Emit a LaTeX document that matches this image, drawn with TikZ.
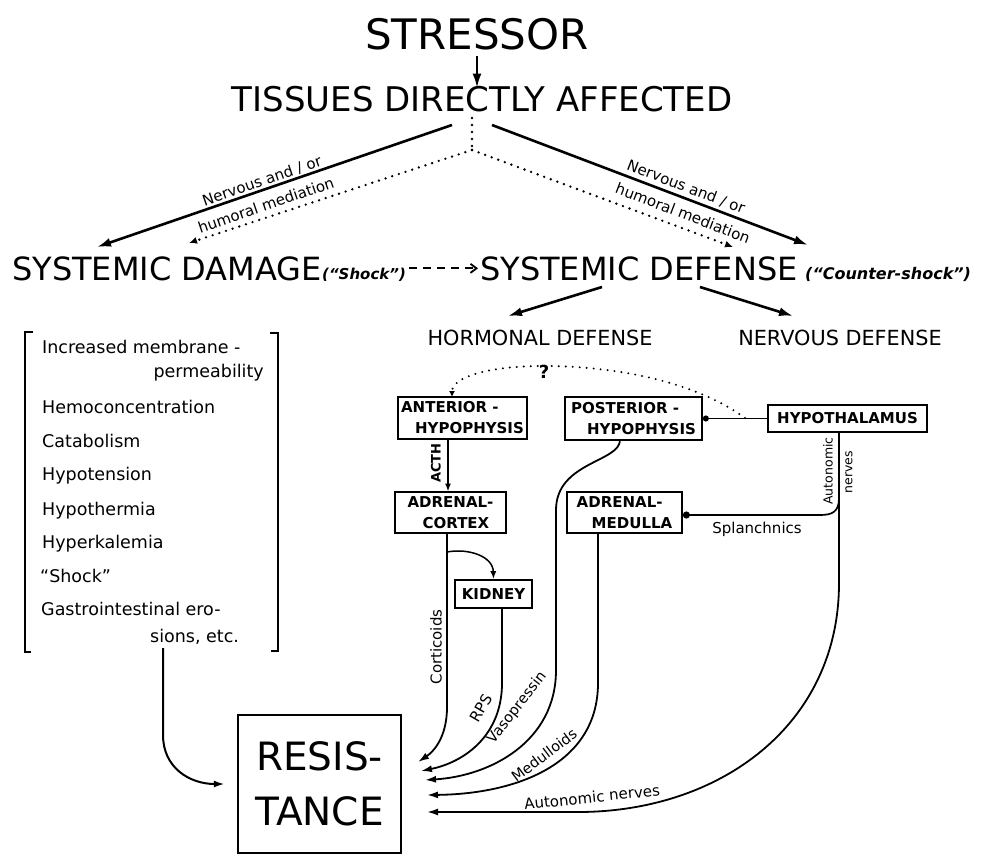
\documentclass[tikz,border=0pt]{standalone}
\usepackage{fontspec}
\setmainfont{DejaVu Sans}[BoldFont={DejaVu Sans Bold},ItalicFont={DejaVu Sans Oblique},BoldItalicFont={DejaVu Sans Bold Oblique}]
\usetikzlibrary{arrows.meta}
\newcommand\myfs[2]{\fontsize{#1}{#2}\selectfont}
\tikzset{
 txt/.style={inner sep=0pt},
 mainarrow/.style={line width=2.6pt, -{Latex[length=14pt,width=9pt]}},
 midarrow/.style={line width=1.8pt, -{Latex[length=11pt,width=7pt]}},
 thinarrow/.style={line width=1.5pt, -{Latex[length=8pt,width=6pt]}},
 dotline/.style={line width=2.6pt, line cap=round, dash pattern=on 0pt off 7pt},
 organ/.style={draw, line width=1.7pt, font=\bfseries\myfs{15}{21}, align=left, inner xsep=2pt, inner ysep=0pt},
 lbl/.style={inner sep=0pt, font=\myfs{15}{17}},
 listitem/.style={inner sep=0pt, anchor=base west, font=\myfs{17.5}{20}},
}
\begin{document}
\begin{tikzpicture}[x=1pt,y=-1pt]
\useasboundingbox (0,0) rectangle (984,864);
% ---------- titles
\node[txt, anchor=base, font=\myfs{42}{48}] (stressor) at (477,50) {STRESSOR};
\node[txt, anchor=base, font=\myfs{34}{40}] (tissues) at (482,111) {TISSUES DIRECTLY AFFECTED};
\node[txt, anchor=base west, font=\myfs{32}{38}] (damage) at (12,280) {SYSTEMIC DAMAGE};
\node[txt, anchor=base west, font=\bfseries\itshape\myfs{15}{18}] (shock) at (322,279) {(“Shock”)};
\node[txt, anchor=base west, font=\myfs{32}{38}] (defense) at (480,280) {SYSTEMIC DEFENSE};
\node[txt, anchor=base west, font=\bfseries\itshape\myfs{16}{18}] (cshock) at (805,279) {(“Counter-shock”)};
\node[txt, anchor=base, font=\myfs{20.8}{24}] (hormonal) at (540,345) {HORMONAL DEFENSE};
\node[txt, anchor=base, font=\myfs{20.8}{24}] (nervous) at (840,345) {NERVOUS DEFENSE};
% ---------- top connectors
\draw[mainarrow, line width=2pt, shorten <=5pt, shorten >=-2pt] (stressor.south) -- (stressor.south |- tissues.north);
\coordinate (tL) at (452,125);
\coordinate (tR) at (492,125);
\coordinate (tD) at (472,118);
\coordinate (br) at (472,150);
\coordinate (dL) at (97,247);
\coordinate (dR) at (808,245);
\coordinate (dlL) at (189,243);
\coordinate (dlR) at (733,247);
\draw[mainarrow] (tL) -- (dL);
\draw[mainarrow] (tR) -- (dR);
\draw[dotline] (tD) -- (br);
\draw[dotline, -{Latex[length=8pt,width=7pt]}] (br) -- (dlL);
\draw[dotline, -{Latex[length=8pt,width=7pt]}] (br) -- (dlR);
\node[lbl, rotate=19] (nl1) at (262,181) {Nervous and / or};
\node[lbl, rotate=19] (nl2) at (266,205) {humoral mediation};
\node[lbl, rotate=-21] (nr1) at (686,187) {Nervous and / or};
\node[lbl, rotate=-21] (nr2) at (683,213) {humoral mediation};
% dashed arrow
\draw[line width=1.8pt, dash pattern=on 8pt off 6pt, shorten <=3pt, shorten >=2pt, -{Straight Barb[length=6pt,width=9pt]}] (defense.west -| shock.east) -- (defense.west);
% defense split
\coordinate (dfL) at (602,287);
\coordinate (dfR) at (700,287);
\coordinate (hL) at (508,316);
\coordinate (nR) at (793,316);
\draw[mainarrow] (dfL) -- (hL);
\draw[mainarrow] (dfR) -- (nR);
% ---------- organ boxes
\node[organ, minimum width=129pt, minimum height=42pt] (ant) at (462.5,418) {ANTERIOR -\\\hspace*{14pt}HYPOPHYSIS};
\node[organ, minimum width=137pt, minimum height=43pt] (post) at (633.5,418.5) {POSTERIOR -\\\hspace*{16pt}HYPOPHYSIS};
\node[organ, minimum width=159pt, minimum height=27pt, align=center] (hyp) at (847.5,418.5) {HYPOTHALAMUS};
\node[organ, minimum width=111pt, minimum height=41pt] (cortex) at (450.5,512.5) {ADRENAL-\\\hspace*{15pt}CORTEX};
\node[organ, minimum width=115pt, minimum height=41pt] (medulla) at (624.5,512.5) {ADRENAL-\\\hspace*{15pt}MEDULLA};
\node[organ, minimum width=77pt, minimum height=28pt, align=center] (kidney) at (493.5,594) {KIDNEY};
% ---------- resistance
\node[draw, line width=2.4pt, minimum width=163pt, minimum height=138pt, align=center, inner sep=0pt, font=\myfs{39}{55}] (res) at (319.5,784) {RESIS-\\TANCE};
% ---------- bracket list
\draw[line width=2pt] (33,332) -- (25,332) -- (25,652) -- (31,652);
\draw[line width=2pt] (270,333) -- (278,333) -- (278,651) -- (271,651);
\node[listitem] (l1) at (42,353) {Increased membrane -};
\node[listitem, anchor=base east] (l1b) at (264,377) {permeability};
\node[listitem] (l2) at (42,413) {Hemoconcentration};
\node[listitem] (l3) at (42,447) {Catabolism};
\node[listitem] (l4) at (42,480) {Hypotension};
\node[listitem] (l5) at (42,515) {Hypothermia};
\node[listitem] (l6) at (42,548) {Hyperkalemia};
\node[listitem] (l7) at (40,582) {“Shock”};
\node[listitem] (l8) at (41,615) {Gastrointestinal ero-};
\node[listitem] (l8b) at (150,642) {sions, etc.};
\coordinate (brk) at (163,648);
\draw[midarrow, line width=2pt, shorten >=12pt] (brk) -- (163,735) .. controls (163,768) and (190,784) .. (res.west);
% ---------- hormonal / nervous paths
\coordinate (a1) at (448,439.5);
\coordinate (a2) at (448,491.5);
\draw[thinarrow] (a1) -- (a2);
\node[txt, rotate=90, font=\bfseries\myfs{13}{15}] (acth) at (436,463) {ACTH};
% dotted feedback arc
\coordinate (fb) at (745,418);
\coordinate (antTop) at (452,397);
\draw[dotline, line width=2.2pt, -{Latex[length=6pt,width=6pt]}] (fb) .. controls (690,378) and (605,366) .. (544,366) .. controls (485,366) and (452,378) .. (antTop);
\node[txt, font=\bfseries\myfs{18}{20}] (qm) at (544,372) {?};
% hypothalamus -> posterior
\draw[line width=1.7pt, -{Circle[length=6pt]}] (hyp.west) -- (post.east);
% cortex -> kidney, corticoids
\coordinate (c1) at (447,533);
\coordinate (c2) at (447,552);
\coordinate (e1) at (418,762);
\draw[midarrow] (c1) -- (447,707) .. controls (447,738) and (433,752) .. (e1);
\draw[thinarrow] (c2) .. controls (468,548) and (493,556) .. (kidney.north);
\node[lbl, rotate=90] (cort) at (436,647) {Corticoids};
% kidney RPS
\coordinate (k1) at (502,608);
\coordinate (e2) at (421,771);
\draw[midarrow] (k1) -- (502,683) .. controls (502,735) and (465,762) .. (e2);
\node[lbl, rotate=60] (rps) at (481,708) {RPS};
% posterior -> vasopressin
\coordinate (p1) at (620,440);
\coordinate (e3) at (425,780);
\draw[midarrow] (p1) .. controls (620,462) and (556,462) .. (556,510) -- (556,670) .. controls (556,742) and (490,776) .. (e3);
\node[lbl, font=\myfs{14.5}{16}, rotate=52] (vaso) at (517,708) {Vasopressin};
% medulla -> medulloids
\coordinate (m1) at (598,533);
\coordinate (e4) at (427,795);
\draw[midarrow] (m1) -- (598,683) .. controls (598,765) and (515,794) .. (e4);
\node[lbl, font=\myfs{14.5}{16}, rotate=37] (medl) at (544,755) {Medulloids};
% hypothalamus -> autonomic nerves
\coordinate (h1) at (839,432);
\coordinate (e5) at (427,812);
\draw[midarrow] (h1) -- (839,583) .. controls (839,725) and (720,812) .. (578,812) -- (e5);
\node[lbl, rotate=6] (autn) at (592,797) {Autonomic nerves};
\node[txt, rotate=90, font=\myfs{12.5}{14}] (aut1) at (828,471) {Autonomic};
\node[txt, rotate=90, font=\myfs{12.5}{14}] (aut2) at (849,472) {nerves};
% splanchnics
\coordinate (s1) at (839,498);
\draw[line width=1.7pt, -{Circle[length=7pt]}] (s1) .. controls (839,512) and (832,515) .. (820,515) -- (medulla.east |- 0,515);
\node[lbl] (spl) at (757,529) {Splanchnics};
\end{tikzpicture}
\end{document}
